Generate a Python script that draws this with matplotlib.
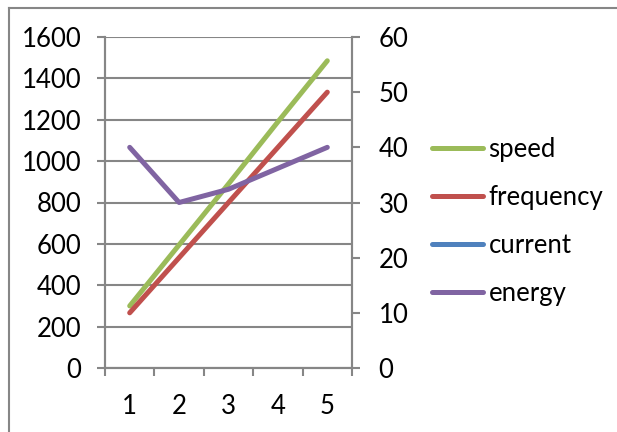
import matplotlib
matplotlib.use("Agg")
import matplotlib.pyplot as plt
import numpy as np

categories = [1, 2, 3, 4, 5]
speed = [300, 595, 890, 1190, 1485]          # left axis
frequency = [10, 20, 30, 40, 50]             # right axis
current = [np.nan, np.nan, np.nan, np.nan, np.nan]  # not visible
energy = [40, 30, 32.4, 36.2, 40]            # right axis
left_ticks = [0, 200, 400, 600, 800, 1000, 1200, 1400, 1600]
right_ticks = [0, 10, 20, 30, 40, 50, 60]

GREEN, RED, BLUE, PURPLE = "#9BBB59", "#C0504D", "#4F81BD", "#8064A2"
GRAY = "#868686"
FONT = "Lato"
FS = 18.5

plt.rcParams["font.family"] = [FONT, "DejaVu Sans"]

W, H = 617, 432
fig = plt.figure(figsize=(W / 100, H / 100), dpi=100)
fig.patch.set_facecolor("white")

# outer chart border (left and top only visible)
fig.add_artist(plt.Line2D([9 / W, 9 / W], [0, 1 - 8 / H], color=GRAY, lw=1.5))
fig.add_artist(plt.Line2D([9 / W, 1], [1 - 8 / H, 1 - 8 / H], color=GRAY, lw=1.5))

L, R, T, B = 105, 352, 37, 368
ax = fig.add_axes([L / W, 1 - B / H, (R - L) / W, (B - T) / H])
ax2 = ax.twinx()

x = np.array(categories, dtype=float)
lw = 3.6
l1, = ax.plot(x, speed, color=GREEN, lw=lw, solid_capstyle="round", label="speed", zorder=3)
l2, = ax2.plot(x, frequency, color=RED, lw=lw, solid_capstyle="round", label="frequency", zorder=3)
l3, = ax2.plot(x, current, color=BLUE, lw=lw, solid_capstyle="round", label="current", zorder=3)
l4, = ax2.plot(x, energy, color=PURPLE, lw=lw, solid_capstyle="round", label="energy", zorder=4)

ax.set_xlim(0.5, 5.5)
ax.set_ylim(0, 1600)
ax2.set_ylim(0, 60)
ax.set_yticks(left_ticks)
ax.set_yticklabels([str(v) for v in left_ticks])
ax2.set_yticks(right_ticks)
ax2.set_yticklabels([str(v) for v in right_ticks])

# category boundary ticks, labels at centers
ax.set_xticks(np.arange(0.5, 6.0, 1.0))
ax.set_xticklabels([""] * 6)
ax.set_xticks(x, minor=True)
ax.set_xticklabels([str(c) for c in categories], minor=True)
ax.tick_params(axis="x", which="minor", length=0, pad=19, labelsize=FS)
ax.tick_params(axis="x", which="major", length=6, width=1.5, color=GRAY, direction="out")
ax.tick_params(axis="y", length=6, width=1.5, color=GRAY, direction="out", pad=11, labelsize=FS)
ax2.tick_params(axis="y", length=6, width=1.5, color=GRAY, direction="out", pad=13, labelsize=FS)

ax.grid(axis="y", color=GRAY, lw=1.5, zorder=0)
ax.set_axisbelow(True)
for a in (ax, ax2):
    a.spines["top"].set_visible(False)
    for s in ("left", "right", "bottom"):
        a.spines[s].set_color(GRAY)
        a.spines[s].set_linewidth(1.5)
    a.patch.set_visible(False)

leg = fig.legend(handles=[l1, l2, l3, l4], loc="upper left",
                 bbox_to_anchor=(432 / W, 1 - 137 / H), frameon=False,
                 fontsize=FS, handlelength=2.0, handletextpad=0.2,
                 labelspacing=0.9, borderpad=0, borderaxespad=0)

fig.savefig("out.png", dpi=100, facecolor="white")
